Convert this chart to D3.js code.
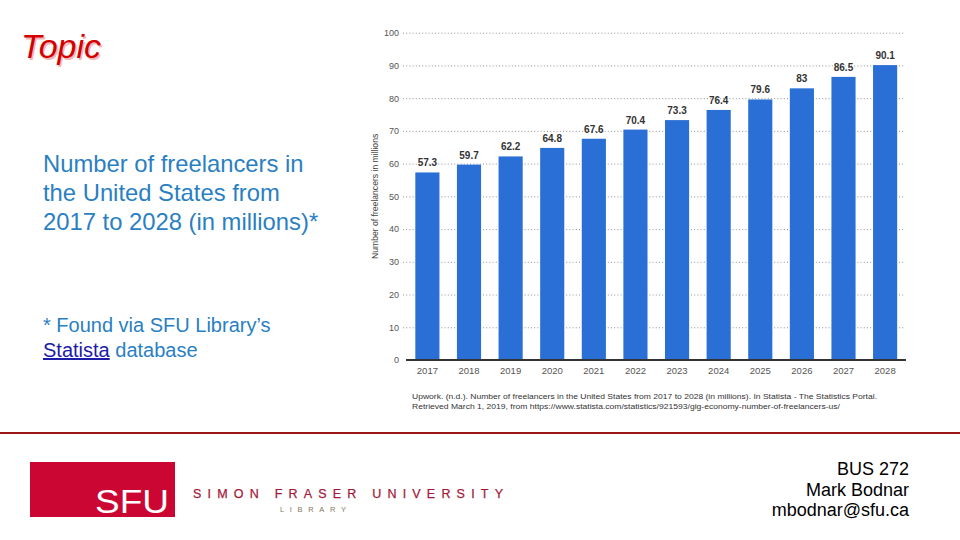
<!DOCTYPE html>
<html>
<head>
<meta charset="utf-8">
<script src="https://cdn.jsdelivr.net/npm/d3@7"></script>
<style>
  body { margin: 0; background: #fff; }
  text { font-family: "Liberation Sans", Arial, sans-serif; }
</style>
</head>
<body>
<svg id="mainSVG"></svg>
<script>
// chart data
let years = ['2017','2018','2019','2020','2021','2022','2023','2024','2025','2026','2027','2028']
let freelancers = [57.3, 59.7, 62.2, 64.8, 67.6, 70.4, 73.3, 76.4, 79.6, 83, 86.5, 90.1]
let yTicks = [0, 10, 20, 30, 40, 50, 60, 70, 80, 90, 100]

let titleLines = ['Number of freelancers in', 'the United States from', '2017 to 2028 (in millions)*']
let citeLines = [
    'Upwork. (n.d.). Number of freelancers in the United States from 2017 to 2028 (in millions). In Statista - The Statistics Portal.',
    'Retrieved March 1, 2019, from https://www.statista.com/statistics/921593/gig-economy-number-of-freelancers-us/'
]
let contactLines = ['BUS 272', 'Mark Bodnar', 'mbodnar@sfu.ca']

let w = 960, h = 540
let svg = d3.select('#mainSVG').attr('width', w).attr('height', h)

function slideSetup(){
    // title with soft shadow
    svg.append('text').attr('x', 22.5).attr('y', 59.5)
        .attr('font-size', 34).attr('font-style', 'italic')
        .attr('fill', '#f0b8b8').text('Topic')
    svg.append('text').attr('x', 21).attr('y', 58)
        .attr('font-size', 34).attr('font-style', 'italic')
        .attr('fill', '#d40000').text('Topic')

    svg.append('g').selectAll('text')
        .data(titleLines).join('text')
        .attr('x', 43).attr('y', (d, i) => 172 + i * 29)
        .attr('font-size', 23.8).attr('fill', '#2a7fc2')
        .text(d => d)

    svg.append('text').attr('x', 43).attr('y', 332)
        .attr('font-size', 20).attr('fill', '#2a7fc2')
        .text('* Found via SFU Library\u2019s')
    let note = svg.append('text').attr('x', 43).attr('y', 357)
        .attr('font-size', 20).attr('fill', '#2a7fc2')
    note.append('tspan').attr('fill', '#1c1ca8').attr('text-decoration', 'underline').text('Statista')
    note.append('tspan').text(' database')

    svg.append('g').selectAll('text')
        .data(citeLines).join('text')
        .attr('x', 412).attr('y', (d, i) => 399 + i * 10)
        .attr('font-size', 7.4).attr('fill', '#333')
        .attr('textLength', (d, i) => i == 0 ? 465 : 428)
        .attr('lengthAdjust', 'spacingAndGlyphs')
        .text(d => d)

    svg.append('line').attr('x1', 0).attr('x2', w).attr('y1', 433).attr('y2', 433)
        .attr('stroke', '#9b1416').attr('stroke-width', 2.2)

    // SFU library logo
    svg.append('rect').attr('x', 30).attr('y', 462).attr('width', 145).attr('height', 55)
        .attr('fill', '#cc0633')
    svg.append('text').attr('x', 95).attr('y', 513)
        .attr('font-size', 33).attr('fill', '#fff')
        .attr('textLength', 74).attr('lengthAdjust', 'spacingAndGlyphs')
        .text('SFU')
    svg.append('text').attr('x', 193).attr('y', 498)
        .attr('font-family', '"Liberation Serif", "DejaVu Serif", serif')
        .attr('font-size', 12.5).attr('fill', '#a3193a')
        .attr('stroke', '#a3193a').attr('stroke-width', 0.25)
        .attr('textLength', 310).attr('lengthAdjust', 'spacing')
        .text('SIMON FRASER UNIVERSITY')
    svg.append('text').attr('x', 280).attr('y', 512)
        .attr('font-size', 7.5).attr('fill', '#857a5c')
        .attr('textLength', 66).attr('lengthAdjust', 'spacing')
        .text('LIBRARY')

    svg.append('g').selectAll('text')
        .data(contactLines).join('text')
        .attr('x', 909).attr('y', (d, i) => 475 + i * 20.5)
        .attr('text-anchor', 'end')
        .attr('font-size', 18).attr('fill', '#000')
        .text(d => d)
}

function barSetup(){
    let chart = svg.append('g').attr('id', 'freelancerBars')

    let x = d3.scaleBand()
        .domain(years)
        .range([407, 905.5])
        .paddingInner(0.42)
        .paddingOuter(0.2)

    let y = d3.scaleLinear()
        .domain([0, 100])
        .range([360, 32.7])

    // dotted grid + tick labels
    let yAxis = chart.append('g')
        .attr('transform', 'translate(403, 0)')
        .call(d3.axisLeft(y).tickValues(yTicks).tickSize(-502).tickPadding(4))
    yAxis.select('.domain').remove()
    yAxis.selectAll('.tick line')
        .attr('stroke', '#777').attr('stroke-width', 0.8)
        .attr('stroke-dasharray', '1,2.2')
    yAxis.selectAll('.tick text')
        .attr('font-size', 9).attr('fill', '#555')
        .attr('font-family', '"Liberation Sans", Arial, sans-serif')
    yAxis.selectAll('.tick').filter(d => d == 0).select('line').remove()

    chart.append('text')
        .attr('transform', `translate(378, ${y(50)}) rotate(-90)`)
        .attr('text-anchor', 'middle')
        .attr('font-size', 8.6).attr('fill', '#444')
        .text('Number of freelancers in millions')

    chart.append('g').selectAll('rect')
        .data(freelancers).join('rect')
        .attr('x', (d, i) => x(years[i]))
        .attr('width', x.bandwidth())
        .attr('y', d => y(d))
        .attr('height', d => y(0) - y(d))
        .attr('fill', '#2a6fd6')

    chart.append('g').selectAll('text')
        .data(freelancers).join('text')
        .attr('x', (d, i) => x(years[i]) + x.bandwidth() / 2)
        .attr('y', d => y(d) - 6)
        .attr('text-anchor', 'middle')
        .attr('font-size', 10).attr('font-weight', 'bold').attr('fill', '#333')
        .text(d => d)

    let xAxis = chart.append('g')
        .attr('transform', `translate(0, ${y(0)})`)
        .call(d3.axisBottom(x).tickSize(0).tickPadding(7))
    xAxis.select('.domain')
        .attr('d', `M406,0H906`)
        .attr('stroke', '#333').attr('stroke-width', 2)
    xAxis.selectAll('.tick text')
        .attr('font-size', 9.5).attr('fill', '#555')
        .attr('font-family', '"Liberation Sans", Arial, sans-serif')

    return {x, y}
}

slideSetup()
let {x, y} = barSetup()
</script>
</body>
</html>
